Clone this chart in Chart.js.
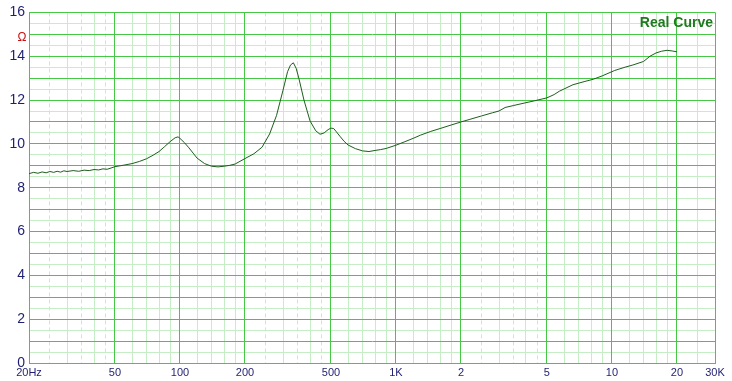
<!DOCTYPE html>
<html>
<head>
<meta charset="utf-8">
<script src="https://cdn.jsdelivr.net/npm/chart.js@4.4.1/dist/chart.umd.min.js"></script>
<style>
  html, body { margin: 0; padding: 0; background: #ffffff; }
  #wrap { width: 732px; height: 381px; }
</style>
</head>
<body>
<div id="wrap"><canvas id="zChart" width="732" height="381"></canvas></div>
<script>
// --- datos (Hz / ohm) ---
const freqs = [20, 21, 22, 23, 24, 25, 26, 27, 28, 29, 30, 32, 34, 36, 38, 40, 42, 44, 46, 48,
  50, 55, 60, 65, 70, 75, 80, 85, 90, 95, 98, 100, 105, 110,
  115, 120, 130, 140, 150, 160, 170, 180, 200, 220, 240, 260, 280, 300, 315, 325, 335, 345, 355,
  375, 400, 425, 445, 465, 485, 500, 515, 530, 550, 575, 600, 650, 700, 750, 800, 850, 900, 1000,
  1100, 1200, 1300, 1450, 1600, 1800, 2000, 2200, 2500, 2800, 3000, 3200, 3500, 4000, 4400, 5000,
  5400, 5700, 6600, 7500, 8200, 9000, 10300, 11500, 12500, 14000, 15000, 16000, 17000, 18000, 19000, 20000];
const impedance = [8.64, 8.7, 8.66, 8.72, 8.68, 8.74, 8.7, 8.75, 8.71, 8.77, 8.74, 8.78, 8.75, 8.8, 8.78, 8.83, 8.81, 8.86, 8.84, 8.9,
  8.96, 9.03, 9.1, 9.2, 9.32, 9.48, 9.65, 9.88, 10.1, 10.28, 10.32, 10.25, 10.05, 9.82,
  9.58, 9.35, 9.1, 8.98, 8.95, 8.98, 9.02, 9.08, 9.33, 9.55, 9.85, 10.45, 11.3, 12.45, 13.3, 13.6, 13.7, 13.45, 13.0,
  12.0, 11.05, 10.6, 10.44, 10.5, 10.65, 10.72, 10.7, 10.55, 10.35, 10.12, 9.95, 9.78, 9.68, 9.65, 9.7, 9.74, 9.79, 9.94,
  10.1, 10.25, 10.4, 10.57, 10.7, 10.86, 11.0, 11.12, 11.28, 11.42, 11.5, 11.66, 11.75, 11.88, 11.97, 12.1,
  12.25, 12.4, 12.7, 12.85, 12.95, 13.1, 13.35, 13.5, 13.6, 13.76, 14.0, 14.15, 14.23, 14.27, 14.24, 14.2];

// --- ejes ---
const xLabelVals = [20, 50, 100, 200, 500, 1000, 2000, 5000, 10000, 20000, 30000];
const xLabels = ['20Hz', '50', '100', '200', '500', '1K', '2', '5', '10', '20', '30K'];
const xMinorVals = [30, 40, 60, 70, 80, 90, 120, 140, 160, 180, 300, 400, 600, 700, 800, 900,
  1200, 1400, 1600, 1800, 3000, 4000, 6000, 7000, 8000, 9000, 12000, 14000, 16000, 18000, 25000];
const xDashVals = [25, 35, 45, 250, 350, 450, 2500, 3500, 4500];
const yMajorVals = [0, 1, 2, 3, 4, 5, 6, 7, 8, 9, 10, 11, 12, 13, 14, 15, 16];
const yMinorVals = [0.5, 1.5, 2.5, 3.5, 4.5, 5.5, 6.5, 7.5, 8.5, 9.5, 10.5, 11.5, 12.5, 13.5, 14.5, 15.5];

const FONT = 'Arial, "Liberation Sans", sans-serif';
const NAVY = '#1e1e72';
const GRID_MAJOR = '#46c846';
const GRID_MINOR = '#c6eec6';
const GRID_DASH = '#cfe6cf';

const labelMap = {};
xLabelVals.forEach((v, i) => { labelMap[v] = xLabels[i]; });

const points = freqs.map((f, i) => ({ x: f, y: impedance[i] }));

function setTicks(vals) {
  return s => { s.ticks = vals.map(v => ({ value: v })); };
}

// ejes auxiliares que solo dibujan rejilla
function gridAxis(type, pos, min, max, vals, color, dash) {
  return {
    type: type,
    position: pos,
    min: min,
    max: max,
    afterBuildTicks: setTicks(vals),
    afterFit: s => { if (pos === 'bottom') s.height = 0; else s.width = 0; },
    ticks: { display: false },
    grid: { drawTicks: false, lineWidth: 1, color: color },
    border: { display: false, dash: dash || [] }
  };
}

// textos sueltos (Ω y leyenda)
const extraText = {
  id: 'extraText',
  afterDraw(chart) {
    const ctx = chart.ctx;
    const area = chart.chartArea;
    ctx.save();
    ctx.textBaseline = 'middle';
    ctx.fillStyle = '#cc1010';
    ctx.font = '12px ' + FONT;
    ctx.textAlign = 'center';
    ctx.fillText('Ω', 22, 38);
    ctx.fillStyle = '#1f7a1f';
    ctx.font = 'bold 14px ' + FONT;
    ctx.textAlign = 'right';
    ctx.fillText('Real Curve', area.right - 2, area.top + 11);
    ctx.restore();
  }
};

new Chart(document.getElementById('zChart'), {
  type: 'line',
  data: {
    datasets: [{
      label: 'Real Curve',
      data: points,
      borderColor: '#1d5e1d',
      borderWidth: 1,
      pointRadius: 0,
      tension: 0,
      fill: false
    }]
  },
  options: {
    responsive: false,
    animation: false,
    devicePixelRatio: 1,
    layout: { padding: { top: 11, right: 17, left: 0, bottom: 0 } },
    plugins: { legend: { display: false }, tooltip: { enabled: false } },
    scales: {
      xDash: gridAxis('logarithmic', 'bottom', 20, 30000, xDashVals, GRID_DASH, [4, 3]),
      xMinor: gridAxis('logarithmic', 'bottom', 20, 30000, xMinorVals, GRID_MINOR),
      yMinor: gridAxis('linear', 'left', 0, 16, yMinorVals, GRID_MINOR),
      x: {
        type: 'logarithmic',
        position: 'bottom',
        min: 20,
        max: 30000,
        afterBuildTicks: setTicks(xLabelVals),
        afterFit: s => { s.height = 18; },
        ticks: {
          autoSkip: false,
          maxRotation: 0,
          minRotation: 0,
          padding: 3,
          color: NAVY,
          font: { family: FONT, size: 11 },
          callback: v => (labelMap[v] !== undefined ? labelMap[v] : '')
        },
        grid: { drawTicks: false, lineWidth: 1, color: GRID_MAJOR },
        border: { color: GRID_MAJOR, width: 1 }
      },
      y: {
        type: 'linear',
        position: 'left',
        min: 0,
        max: 16,
        afterBuildTicks: setTicks(yMajorVals),
        afterFit: s => { s.width = 29; },
        ticks: {
          autoSkip: false,
          padding: 4,
          color: NAVY,
          font: { family: FONT, size: 14 },
          callback: v => (v % 2 === 0 ? String(v) : '')
        },
        grid: { drawTicks: false, lineWidth: 1, color: GRID_MAJOR },
        border: { color: GRID_MAJOR, width: 1 }
      }
    }
  },
  plugins: [extraText]
});
</script>
</body>
</html>
